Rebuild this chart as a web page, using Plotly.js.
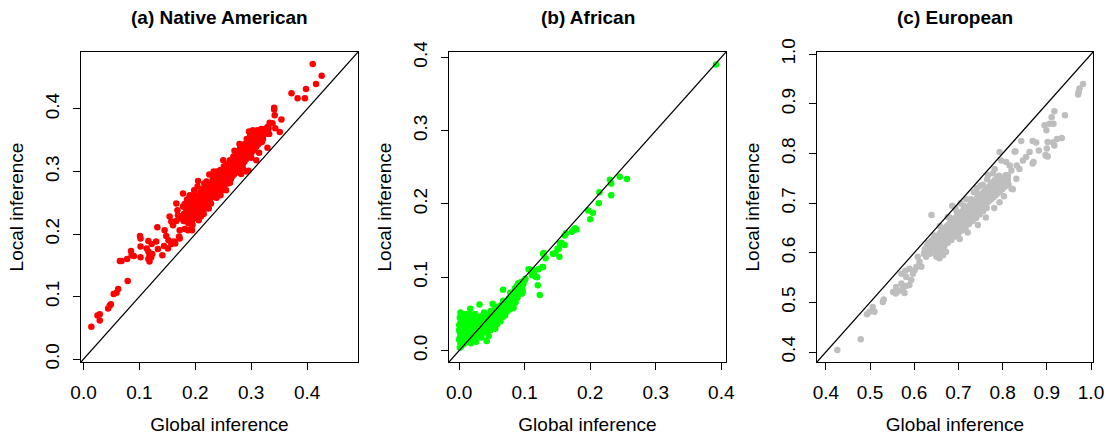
<!DOCTYPE html>
<html>
<head>
<meta charset="utf-8">
<script src="https://cdn.plot.ly/plotly-3.0.1.min.js"></script>
<style>
html,body{margin:0;padding:0;background:#ffffff;}
#chart{width:1110px;height:436px;}
</style>
</head>
<body>
<div id="chart"></div>
<script>
// ---------- text ----------
const panelTitles = ["(a) Native American", "(b) African", "(c) European"];
const xLabel = "Global inference";
const yLabel = "Local inference";

// ---------- tick values ----------
const ticksA = [0.0, 0.1, 0.2, 0.3, 0.4];
const ticksB = [0.0, 0.1, 0.2, 0.3, 0.4];
const ticksC = [0.4, 0.5, 0.6, 0.7, 0.8, 0.9, 1.0];

// ---------- axis limits (same on both axes of a panel) ----------
const limA = [-0.0045, 0.491];
const limB = [-0.0155, 0.4072];
const limC = [0.380, 1.0045];

// ---------- (a) Native American ----------
const nativeGlobal = [
  0.014,0.025,0.029,0.029,0.044,0.047,0.049,0.054,0.059,0.062,0.079,0.065,0.068,0.078,0.085,0.086,0.090,0.101,0.102,0.102,0.102,0.116,0.122,0.113,0.116,0.118,0.121,0.118,0.116,0.123,
  0.132,0.130,0.133,0.141,0.145,0.148,0.152,0.144,0.151,0.157,0.162,0.154,0.157,0.160,0.166,0.169,0.168,0.175,0.181,0.178,0.184,0.187,0.193,0.172,0.172,0.178,0.166,0.194,0.181,0.171,0.164,0.206,0.224,0.292,
  0.410,0.426,0.416,0.398,0.372,0.383,0.396,0.341,0.341,0.342,0.354,0.333,0.338,0.343,0.351,0.329,0.316,0.311,0.321,0.319,0.309,0.295,
  0.180,0.181,0.179, 0.184,0.183,0.185, 0.187,0.188,0.186, 0.190,0.191,0.189,0.190, 0.193,0.194,0.192, 0.196,0.197,0.195,0.198,
  0.199,0.200,0.198, 0.202,0.203,0.201,0.204, 0.205,0.206,0.207, 0.208,0.209,0.207,0.210, 0.211,0.212,0.213,0.210, 0.214,0.215,0.213,0.216,
  0.217,0.218,0.216,0.219, 0.220,0.221,0.219,0.222,0.220, 0.223,0.224,0.222,0.225, 0.226,0.227,0.225,0.228,0.226, 0.229,0.230,0.228,0.231,0.229,
  0.232,0.233,0.231,0.234,0.232, 0.235,0.236,0.234,0.237,0.235, 0.238,0.239,0.237,0.240,0.238,0.239, 0.241,0.242,0.240,0.243,0.241,
  0.244,0.245,0.243,0.246,0.244,0.245, 0.247,0.248,0.246,0.249,0.247, 0.250,0.251,0.249,0.252,0.250,0.251, 0.253,0.254,0.252,0.255,0.253,
  0.256,0.257,0.255,0.258,0.256,0.257, 0.259,0.260,0.258,0.261,0.259, 0.262,0.263,0.261,0.264,0.262,0.263, 0.265,0.266,0.264,0.267,0.265,
  0.268,0.269,0.267,0.270,0.268,0.269, 0.271,0.272,0.270,0.273,0.271, 0.274,0.275,0.273,0.276,0.274,0.275, 0.277,0.278,0.276,0.279,0.277,
  0.280,0.281,0.279,0.282,0.280,0.281, 0.283,0.284,0.282,0.285,0.283, 0.286,0.287,0.285,0.288,0.286, 0.289,0.290,0.288,0.291,0.289,
  0.292,0.293,0.291,0.294,0.292, 0.295,0.296,0.294,0.297, 0.298,0.299,0.297,0.300,0.298, 0.301,0.302,0.300,0.303, 0.304,0.305,0.303,0.306,0.304,
  0.307,0.308,0.306,0.309, 0.310,0.311,0.309,0.312, 0.313,0.314,0.312,0.315, 0.316,0.317,0.315, 0.319,0.320,0.318, 0.322,0.323,0.321,
  0.325,0.326, 0.328,0.329, 0.331,0.332,
  0.205,0.215,0.225,0.238,0.250,0.262,0.270,0.285,0.300,0.303,0.255,0.245,0.198,0.210,0.195,0.188,0.233,0.279,0.296,0.314
];
const nativeLocal = [
  0.052,0.070,0.072,0.062,0.081,0.086,0.088,0.104,0.106,0.112,0.125,0.157,0.157,0.160,0.173,0.166,0.165,0.197,0.193,0.180,0.163,0.189,0.184,0.177,0.172,0.166,0.163,0.156,0.160,0.168,
  0.211,0.188,0.176,0.166,0.206,0.197,0.190,0.181,0.177,0.184,0.188,0.228,0.220,0.214,0.221,0.230,0.238,0.225,0.233,0.244,0.220,0.206,0.208,0.206,0.193,0.265,0.249,0.206,0.208,0.196,0.185,0.222,0.241,0.300,
  0.472,0.453,0.440,0.432,0.425,0.417,0.417,0.402,0.399,0.390,0.383,0.378,0.377,0.369,0.363,0.338,0.363,0.365,0.361,0.347,0.318,0.301,
  0.232,0.248,0.221, 0.240,0.226,0.255, 0.235,0.217,0.246, 0.228,0.252,0.241,0.262, 0.236,0.222,0.247, 0.244,0.258,0.231,0.238,
  0.249,0.226,0.270, 0.241,0.256,0.233,0.276, 0.250,0.238,0.262, 0.245,0.267,0.231,0.255, 0.258,0.249,0.272,0.240, 0.262,0.247,0.254,0.281,
  0.251,0.266,0.240,0.259, 0.258,0.271,0.247,0.264,0.284, 0.262,0.253,0.276,0.268, 0.270,0.259,0.281,0.249,0.265, 0.266,0.274,0.258,0.287,0.270,
  0.272,0.263,0.281,0.276,0.296, 0.278,0.268,0.285,0.259,0.274, 0.274,0.283,0.291,0.266,0.279,0.300, 0.281,0.272,0.288,0.295,0.277,
  0.285,0.278,0.292,0.269,0.302,0.283, 0.288,0.281,0.297,0.276,0.291, 0.293,0.284,0.301,0.277,0.289,0.308, 0.290,0.298,0.283,0.305,0.294,
  0.296,0.289,0.303,0.281,0.311,0.299, 0.300,0.293,0.307,0.286,0.297, 0.303,0.296,0.312,0.289,0.318,0.306, 0.306,0.299,0.314,0.293,0.309,
  0.310,0.302,0.318,0.296,0.324,0.313, 0.312,0.306,0.321,0.299,0.316, 0.316,0.309,0.325,0.303,0.331,0.319, 0.320,0.312,0.327,0.306,0.323,
  0.322,0.316,0.331,0.296,0.337,0.326, 0.327,0.319,0.334,0.312,0.330, 0.330,0.323,0.338,0.316,0.343, 0.333,0.326,0.341,0.320,0.336,
  0.337,0.330,0.345,0.324,0.352, 0.340,0.334,0.348,0.327, 0.343,0.336,0.351,0.329,0.357, 0.347,0.340,0.354,0.333, 0.350,0.343,0.358,0.336,0.362,
  0.353,0.346,0.360,0.340, 0.356,0.349,0.363,0.343, 0.358,0.352,0.366,0.346, 0.361,0.354,0.349, 0.363,0.357,0.368, 0.366,0.359,0.352,
  0.368,0.362, 0.365,0.371, 0.369,0.360,
  0.285,0.232,0.295,0.258,0.318,0.282,0.333,0.305,0.322,0.366,0.270,0.262,0.262,0.228,0.215,0.256,0.300,0.344,0.364,0.330
];

// ---------- (b) African ----------
const africanGlobal = [
  0.001,0.002,0.000,0.003,0.001,0.002,0.000,0.003,0.001,0.004,0.002,0.005,0.004,0.005,0.006,0.005,0.006,0.004,0.003,0.001,0.002,0.006,0.000,
  0.008,0.009,0.010,0.008,0.011,0.009,0.012,0.010,0.012,0.011,0.008,0.012,
  0.014,0.016,0.015,0.017,0.014,0.018,0.016,0.019,0.020,0.019,0.017,0.020,0.018,
  0.022,0.024,0.023,0.026,0.025,0.027,0.029,0.028,0.030,0.029,0.024,0.031,0.030,0.026,
  0.032,0.034,0.033,0.036,0.035,0.038,0.037,0.039,0.040,0.038,0.042,0.040,0.034,
  0.043,0.044,0.045,0.043,0.046,0.048,0.047,0.049,0.050,0.048,0.051,0.045,0.050,
  0.053,0.054,0.055,0.056,0.055,0.058,0.057,0.059,0.060,0.058,0.054,0.060,
  0.062,0.063,0.065,0.064,0.067,0.066,0.068,0.069,0.070,0.067,0.063,0.070,
  0.073,0.074,0.075,0.076,0.077,0.078,0.079,0.080,0.078,0.073,0.080,
  0.083,0.083,0.084,0.085,0.087,0.088,0.086,0.089,0.090,0.088,0.090,0.085,
  0.092,0.093,0.095,0.094,0.096,0.096,0.098,0.100,0.101,0.097,
  0.106,0.114,0.111,0.119,0.116,0.120,0.123,0.121,0.128,0.128,0.132,0.143,0.147,0.152,0.154,0.153,0.161,0.129,0.127,0.150,
  0.156,0.161,0.172,0.175,0.177,0.179,0.197,0.204,0.200,0.214,0.213,0.230,0.232,0.232,0.245,0.256,0.392,0.113,0.163
];
const africanLocal = [
  0.004,0.010,0.015,0.020,0.025,0.030,0.035,0.040,0.045,0.049,0.052,0.008,0.014,0.022,0.028,0.034,0.042,0.047,0.006,0.018,0.038,0.018,0.028,
  0.010,0.016,0.022,0.028,0.034,0.040,0.046,0.050,0.013,0.027,0.044,0.038,
  0.012,0.019,0.026,0.033,0.040,0.045,0.050,0.015,0.024,0.038,0.057,0.030,0.010,
  0.016,0.022,0.029,0.035,0.042,0.047,0.020,0.027,0.033,0.040,0.050,0.063,0.046,0.012,
  0.022,0.028,0.035,0.041,0.047,0.025,0.032,0.038,0.044,0.052,0.013,0.029,0.018,
  0.024,0.031,0.037,0.043,0.049,0.028,0.035,0.041,0.047,0.054,0.064,0.020,0.033,
  0.031,0.038,0.044,0.050,0.030,0.036,0.042,0.048,0.054,0.060,0.057,0.040,
  0.044,0.050,0.056,0.062,0.083,0.046,0.052,0.058,0.064,0.068,0.040,0.048,
  0.053,0.059,0.065,0.071,0.056,0.062,0.068,0.074,0.079,0.066,0.058,
  0.058,0.064,0.070,0.076,0.082,0.080,0.066,0.072,0.078,0.088,0.092,0.085,
  0.084,0.090,0.094,0.078,0.086,0.078,0.091,0.096,0.098,0.081,
  0.111,0.107,0.103,0.100,0.101,0.089,0.076,0.111,0.114,0.132,0.126,0.132,0.133,0.139,0.146,0.128,0.144,0.133,0.114,0.139,
  0.147,0.157,0.162,0.165,0.167,0.165,0.191,0.188,0.179,0.216,0.201,0.233,0.228,0.212,0.237,0.234,0.390,0.110,0.160
];

// ---------- (c) European ----------
const europeanGlobal = [
  0.426,0.479,0.493,0.499,0.506,0.510,0.529,0.531,0.552,0.558,0.565,0.574,0.578,0.571,0.582,0.589,0.559,0.571,0.582,0.593,
  0.597,0.589,0.601,0.580,0.605,0.612,0.616,0.608,0.639,0.623,0.631,0.639,0.650,0.653,0.657,0.665,0.672,0.665,0.642,
  0.982,0.972,0.971,0.974,0.917,0.911,0.941,0.895,0.899,0.915,0.906,0.934,0.923,0.914,0.917,0.902,0.900,0.899,0.882,0.876,
  0.868,0.842,0.829,0.861,0.853,0.870,0.846,0.832,0.838,0.816,0.793,0.797,0.782,0.812,0.820,0.831,0.778,0.767,0.755,0.686,
  0.808,0.820,0.797,0.804,0.782,0.770,0.740,0.823,0.868,0.827,0.897,0.902,
  0.622,0.624, 0.628,0.627,0.629, 0.633,0.634,0.632, 0.638,0.637,0.639,0.636, 0.643,0.644,0.642,0.645, 0.648,0.647,0.649,0.646,0.650,
  0.652,0.653,0.651,0.654, 0.656,0.657,0.655,0.658, 0.660,0.661,0.659,0.662,0.660, 0.664,0.665,0.663,0.666, 0.668,0.669,0.667,0.670,0.668,
  0.672,0.673,0.671,0.674, 0.676,0.677,0.675,0.678,0.676, 0.680,0.681,0.679,0.682,0.680, 0.684,0.685,0.683,0.686,0.684, 0.688,0.689,0.687,0.690,
  0.692,0.693,0.691,0.694,0.692, 0.696,0.697,0.695,0.698,0.696, 0.700,0.701,0.699,0.702,0.700, 0.704,0.705,0.703,0.706, 0.708,0.709,0.707,0.710,0.708,
  0.712,0.713,0.711,0.714,0.712, 0.716,0.717,0.715,0.718,0.716, 0.720,0.721,0.719,0.722, 0.724,0.725,0.723,0.726,0.724, 0.728,0.729,0.727,0.730,0.728,
  0.732,0.733,0.731,0.734,0.732, 0.736,0.737,0.735,0.738, 0.740,0.741,0.739,0.742,0.740, 0.744,0.745,0.743,0.746, 0.748,0.749,0.747,0.750,0.748,
  0.752,0.753,0.751,0.754, 0.756,0.757,0.755,0.758,0.756, 0.760,0.761,0.759,0.762, 0.764,0.765,0.763,0.766,0.764, 0.768,0.769,0.767,0.770,
  0.772,0.773,0.771,0.774, 0.776,0.777,0.775,0.778, 0.780,0.781,0.779,0.782, 0.785,0.786,0.784,0.787, 0.790,0.791,0.789,0.792,
  0.795,0.796,0.794, 0.800,0.801,0.799, 0.806,0.807,0.805, 0.812,0.813,
  0.693,0.705,0.718,0.735,0.750,0.765,0.778,0.742,0.703,0.721,0.744,0.762,0.781,0.793,0.803,0.658,0.676
];
const europeanLocal = [
  0.404,0.426,0.476,0.481,0.491,0.481,0.501,0.506,0.521,0.518,0.523,0.528,0.519,0.538,0.533,0.535,0.531,0.558,0.551,0.545,
  0.558,0.568,0.565,0.564,0.572,0.582,0.572,0.592,0.676,0.599,0.609,0.605,0.592,0.599,0.589,0.595,0.602,0.612,0.613,
  0.940,0.924,0.919,0.931,0.885,0.873,0.877,0.857,0.847,0.860,0.860,0.831,0.829,0.822,0.816,0.823,0.810,0.795,0.806,0.822,
  0.825,0.825,0.804,0.803,0.793,0.783,0.786,0.776,0.769,0.776,0.803,0.786,0.769,0.756,0.729,0.749,0.739,0.756,0.737,0.695,
  0.783,0.766,0.739,0.746,0.722,0.709,0.722,0.728,0.780,0.804,0.797,0.794,
  0.598,0.607, 0.603,0.592,0.615, 0.610,0.599,0.620, 0.606,0.616,0.625,0.598, 0.612,0.621,0.603,0.630, 0.617,0.626,0.608,0.635,0.599,
  0.614,0.623,0.632,0.605, 0.620,0.629,0.611,0.640, 0.624,0.633,0.616,0.644,0.607, 0.627,0.637,0.619,0.646, 0.631,0.640,0.622,0.650,0.613,
  0.634,0.643,0.626,0.654, 0.638,0.647,0.629,0.657,0.620, 0.641,0.650,0.632,0.661,0.671, 0.644,0.653,0.636,0.664,0.626, 0.648,0.657,0.639,0.667,
  0.651,0.660,0.642,0.671,0.633, 0.654,0.663,0.646,0.674,0.683, 0.657,0.666,0.649,0.677,0.639, 0.661,0.670,0.652,0.680, 0.664,0.673,0.655,0.684,0.645,
  0.667,0.676,0.659,0.687,0.695, 0.670,0.679,0.662,0.690,0.651, 0.673,0.682,0.665,0.693, 0.677,0.686,0.668,0.696,0.658, 0.680,0.689,0.671,0.700,0.708,
  0.683,0.692,0.674,0.703,0.664, 0.686,0.695,0.678,0.706, 0.689,0.698,0.681,0.710,0.670, 0.692,0.702,0.684,0.713, 0.696,0.705,0.687,0.716,0.677,
  0.699,0.708,0.690,0.720, 0.702,0.711,0.694,0.723,0.684, 0.705,0.714,0.697,0.727, 0.708,0.718,0.700,0.730,0.690, 0.712,0.721,0.703,0.734,
  0.715,0.724,0.706,0.738, 0.718,0.728,0.709,0.742, 0.721,0.731,0.712,0.746, 0.725,0.735,0.716,0.750, 0.729,0.740,0.720,0.755,
  0.733,0.745,0.724, 0.737,0.750,0.728, 0.742,0.756,0.733, 0.747,0.738,
  0.690,0.700,0.708,0.722,0.735,0.748,0.760,0.730,0.628,0.641,0.656,0.671,0.690,0.702,0.714,0.654,0.672
];

// ---------- styling ----------
const FONT = "Liberation Sans, Arial, Helvetica, sans-serif";
const W = 1110, H = 436;
const colors = ["#FF0000", "#00FF00", "#BEBEBE"];
// plot boxes in pixels: [left, right]
const boxX = [[81, 358], [449, 726], [817, 1093]];
const boxTop = 52, boxBottom = 362;

function xAxis(i, ticks, lim) {
  return {
    domain: [boxX[i][0] / W, boxX[i][1] / W],
    anchor: i === 0 ? "y" : "y" + (i + 1),
    range: lim,
    tickmode: "array",
    tickvals: ticks,
    ticktext: ticks.map(v => v.toFixed(1)),
    ticks: "outside", ticklen: 7, tickwidth: 1, tickcolor: "#000",
    showline: true, mirror: true, linecolor: "#000", linewidth: 1.3,
    showgrid: false, zeroline: false, fixedrange: true,
    tickfont: {family: FONT, size: 19, color: "#000"},
    ticklabelstandoff: 6,
    title: {text: xLabel, font: {family: FONT, size: 19, color: "#000"}, standoff: 15}
  };
}
function yAxis(i, ticks, lim) {
  return {
    domain: [(H - boxBottom) / H, (H - boxTop) / H],
    anchor: i === 0 ? "x" : "x" + (i + 1),
    range: lim,
    tickmode: "array",
    tickvals: ticks,
    ticktext: ticks.map(v => v.toFixed(1)),
    tickangle: -90,
    ticks: "outside", ticklen: 7, tickwidth: 1, tickcolor: "#000",
    showline: true, mirror: true, linecolor: "#000", linewidth: 1.3,
    showgrid: false, zeroline: false, fixedrange: true,
    tickfont: {family: FONT, size: 19, color: "#000"},
    ticklabelstandoff: 6,
    title: {text: yLabel, font: {family: FONT, size: 19, color: "#000"}, standoff: 13}
  };
}

const series = [
  [nativeGlobal, nativeLocal],
  [africanGlobal, africanLocal],
  [europeanGlobal, europeanLocal]
];
const lims = [limA, limB, limC];
const tickSets = [ticksA, ticksB, ticksC];

const traces = series.map((s, i) => ({
  type: "scatter", mode: "markers",
  x: s[0], y: s[1],
  xaxis: i === 0 ? "x" : "x" + (i + 1),
  yaxis: i === 0 ? "y" : "y" + (i + 1),
  marker: {color: colors[i], size: 6.5, line: {width: 0}},
  hoverinfo: "x+y", showlegend: false
}));

const layout = {
  width: W, height: H,
  margin: {l: 0, r: 0, t: 0, b: 0},
  paper_bgcolor: "#fff", plot_bgcolor: "#fff",
  font: {family: FONT, color: "#000"},
  showlegend: false,
  shapes: lims.map((lim, i) => ({
    type: "line", layer: "above",
    xref: i === 0 ? "x" : "x" + (i + 1),
    yref: i === 0 ? "y" : "y" + (i + 1),
    x0: lim[0], y0: lim[0], x1: lim[1], y1: lim[1],
    line: {color: "#000", width: 1.2}
  })),
  annotations: panelTitles.map((t, i) => ({
    text: "<b>" + t + "</b>",
    xref: "paper", yref: "paper",
    x: (boxX[i][0] + boxX[i][1]) / 2 / W, y: (H - 17) / H,
    xanchor: "center", yanchor: "middle",
    showarrow: false,
    font: {family: FONT, size: 19, color: "#000"}
  }))
};
[0, 1, 2].forEach(i => {
  const k = i === 0 ? "" : String(i + 1);
  layout["xaxis" + k] = xAxis(i, tickSets[i], lims[i]);
  layout["yaxis" + k] = yAxis(i, tickSets[i], lims[i]);
});

Plotly.newPlot("chart", traces, layout, {displayModeBar: false, staticPlot: true});
</script>
</body>
</html>
